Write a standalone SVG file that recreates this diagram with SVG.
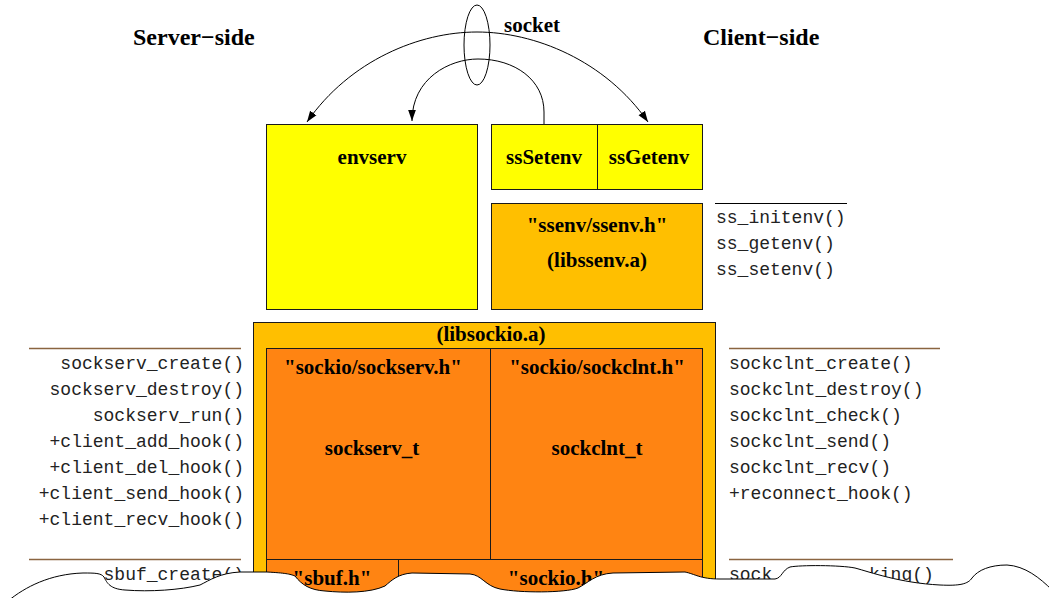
<svg xmlns="http://www.w3.org/2000/svg" width="1049" height="598" viewBox="0 0 1049 598">
<style>
.lbl{font-family:"Liberation Serif","Times New Roman",serif;font-weight:bold;font-size:21px;fill:#000;text-anchor:middle}
.ttl{font-family:"Liberation Serif","Times New Roman",serif;font-weight:bold;font-size:24px;fill:#000}
.mono{font-family:"Liberation Mono","Courier New",monospace;font-size:18px;fill:#222}
.box{stroke:#1a1a1a;stroke-width:1}
.yel{fill:#ffff00}
.amb{fill:#ffbf00}
.org{fill:#ff8412}
.brn{stroke:#8a6440;stroke-width:1.6}
.conn{fill:none;stroke:#000;stroke-width:1}
</style>
<defs>
<marker id="arr" viewBox="0 0 10 10" refX="10" refY="5" markerWidth="11" markerHeight="11" markerUnits="userSpaceOnUse" orient="auto">
<path d="M0,1.5 L10,5 L0,8.5 Z" fill="#000"/>
</marker>
</defs>
<rect width="1049" height="598" fill="#fff"/>

<g id="titles">
<text class="ttl" x="133" y="45">Server−side</text>
<text class="ttl" x="703" y="45">Client−side</text>
<text class="lbl" x="532" y="32">socket</text>
</g>

<g id="envserv">
<rect class="box yel" x="266.5" y="124.5" width="211" height="185"/>
<text class="lbl" x="372" y="164">envserv</text>
</g>

<g id="ssSetenv">
<rect class="box yel" x="491.5" y="124.5" width="106" height="65"/>
<text class="lbl" x="544" y="164">ssSetenv</text>
</g>
<g id="ssGetenv">
<rect class="box yel" x="597.5" y="124.5" width="105" height="65"/>
<text class="lbl" x="649" y="164">ssGetenv</text>
</g>

<g id="libssenv">
<rect class="box amb" x="491.5" y="203.5" width="211" height="106"/>
<text class="lbl" x="597" y="232">"ssenv/ssenv.h"</text>
<text class="lbl" x="597" y="267">(libssenv.a)</text>
</g>

<g id="ssenv-api">
<line x1="715" y1="203.5" x2="847" y2="203.5" stroke="#000" stroke-width="1"/>
<text class="mono" x="716" y="223">ss_initenv()</text>
<text class="mono" x="716" y="249">ss_getenv()</text>
<text class="mono" x="716" y="275">ss_setenv()</text>
</g>

<g id="libsockio">
<rect class="box amb" x="253.5" y="322.5" width="462" height="280"/>
<text class="lbl" x="491" y="341">(libsockio.a)</text>
</g>
<g id="sockserv">
<rect class="box org" x="266.5" y="348.5" width="224" height="211"/>
<text class="lbl" x="373" y="374">"sockio/sockserv.h"</text>
<text class="lbl" x="372" y="455">sockserv_t</text>
</g>
<g id="sockclnt">
<rect class="box org" x="490.5" y="348.5" width="212" height="211"/>
<text class="lbl" x="597" y="374">"sockio/sockclnt.h"</text>
<text class="lbl" x="597" y="455">sockclnt_t</text>
</g>
<g id="sbuf">
<rect class="box org" x="266.5" y="559.5" width="132" height="50"/>
<text class="lbl" x="332" y="585">"sbuf.h"</text>
</g>
<g id="sockio">
<rect class="box org" x="398.5" y="559.5" width="304" height="50"/>
<text class="lbl" x="556" y="585">"sockio.h"</text>
</g>

<g id="server-api">
<line class="brn" x1="29" y1="348.5" x2="241" y2="348.5"/>
<g class="mono" text-anchor="end">
<text x="244" y="369">sockserv_create()</text>
<text x="244" y="395">sockserv_destroy()</text>
<text x="244" y="421">sockserv_run()</text>
<text x="244" y="447">+client_add_hook()</text>
<text x="244" y="473">+client_del_hook()</text>
<text x="244" y="499">+client_send_hook()</text>
<text x="244" y="525">+client_recv_hook()</text>
</g>
<line class="brn" x1="29" y1="559.5" x2="241" y2="559.5"/>
<text class="mono" x="244" y="580" text-anchor="end">sbuf_create()</text>
</g>

<g id="client-api">
<line class="brn" x1="729" y1="348.5" x2="940" y2="348.5"/>
<text class="mono" x="729" y="369">sockclnt_create()</text>
<text class="mono" x="729" y="395">sockclnt_destroy()</text>
<text class="mono" x="729" y="421">sockclnt_check()</text>
<text class="mono" x="729" y="447">sockclnt_send()</text>
<text class="mono" x="729" y="473">sockclnt_recv()</text>
<text class="mono" x="729" y="499">+reconnect_hook()</text>
<line class="brn" x1="729" y1="559.5" x2="953" y2="559.5"/>
<text class="mono" x="729" y="580">sock</text>
<text class="mono" x="869" y="580">king()</text>
</g>

<g id="connectors">
<path class="conn" d="M477,32 C420,32 350,60 307,122" marker-end="url(#arr)"/>
<path class="conn" d="M477,32 C534,32 605,60 648,122" marker-end="url(#arr)"/>
<path class="conn" d="M544,124 L544,112 C544,80 515,59 478,59 C450,59 412,78 412,121" marker-end="url(#arr)"/>
<ellipse cx="477" cy="45" rx="13" ry="40" fill="none" stroke="#000" stroke-width="1"/>
</g>

<g id="torn-edge">
<path d="M8,601 C25,587 50,574 83,573 C95,573 101,573 104,577 C107,583 110,589 125,590 C150,592 180,590 200,585 C210,580 220,573 240,572 L267,572 C285,573 290,574 295,576 C302,585 310,590 325,591 C345,593 370,593 385,586 C392,580 398,574 412,573 L470,574 C482,575 485,586 500,589 C520,593 565,593 578,588 C588,583 595,574 613,573 L685,572 C695,574 700,579 720,579 L775,579 C782,578 782,570 790,567 C800,565 840,565 855,568 C870,572 900,583 940,585 C960,586 968,584 972,578 C978,570 990,565 1007,565 C1025,566 1040,578 1052,590 L1052,601 Z" fill="#fff" stroke="#000" stroke-width="1"/>
</g>
</svg>
